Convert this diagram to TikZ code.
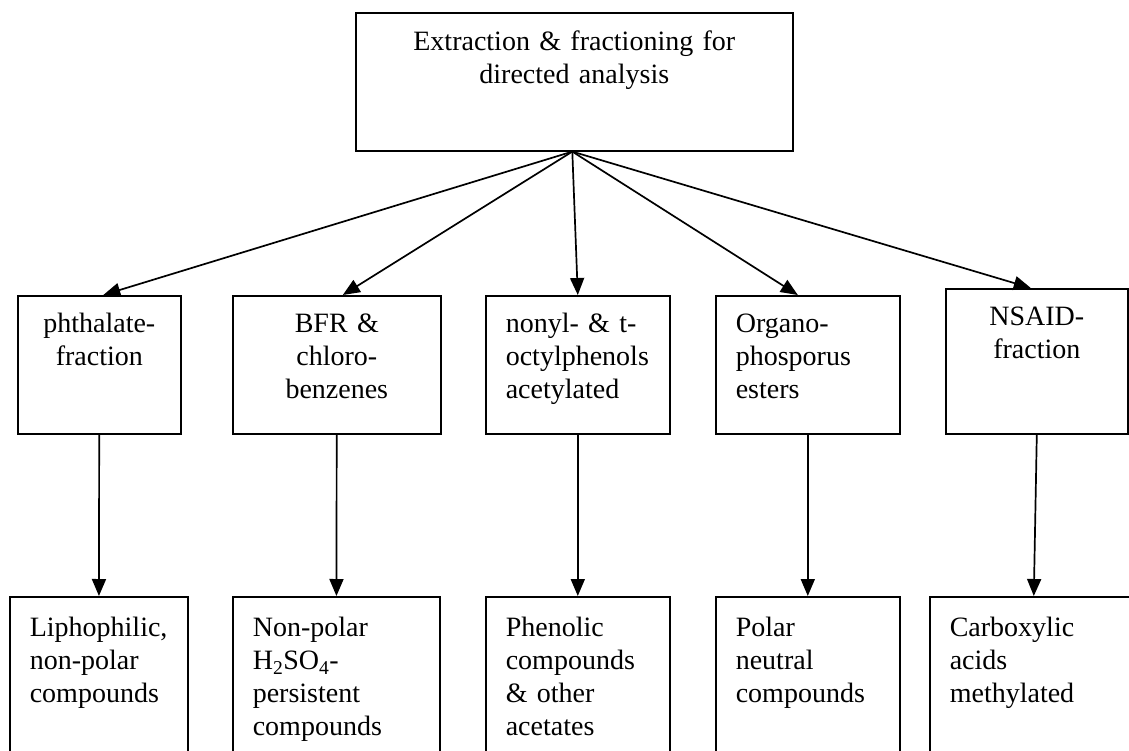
\documentclass[tikz,border=0pt]{standalone}
\usepackage{fontspec}
\setmainfont{Liberation Serif}
\usetikzlibrary{arrows.meta}
\hyphenpenalty=10000
\tikzset{>/.tip={Triangle[width=14pt,length=17pt]},
  fbox/.style={draw, line width=1.6pt, anchor=north west, inner xsep=20pt, inner ysep=0pt,
    font=\fontsize{28}{33}\selectfont, text height=37pt, text depth=101pt},
  lowbox/.style={fbox, text height=40pt, text depth=160pt, align=left},
  link/.style={->, line width=1.7pt}}

\begin{document}
\begin{tikzpicture}[x=1pt,y=-1pt]
\useasboundingbox (0,0) rectangle (1129,751);
\node[fbox, text width=397pt, align=center, text height=38pt, text depth=100pt] (top) at (355,12) {Extraction \& fractioning for\\directed analysis};

\node[fbox, text width=123pt, align=center] (phth) at (17,295) {phthalate-\\fraction};
\node[fbox, text width=168pt, align=center] (bfr) at (232,295) {BFR \&\\chloro-\\benzenes};
\node[fbox, text width=144pt, align=left] (nonyl) at (485,295) {nonyl- \& t-\\octylphenols\\acetylated};
\node[fbox, text width=144pt, align=left] (organo) at (715,295) {Organo-\\phosporus\\esters};
\node[fbox, text width=142pt, align=center, text depth=108pt] (nsaid) at (945,288) {NSAID-\\fraction};

\node[lowbox, text width=138pt] (lipo) at (9,596) {Liphophilic,\\non-polar\\compounds};
\node[lowbox, text width=167pt] (nonpol) at (232,596) {Non-polar\\H\textsubscript{2}SO\textsubscript{4}-\\persistent\\compounds};
\node[lowbox, text width=144pt] (phenol) at (485,596) {Phenolic\\compounds\\\& other\\acetates};
\node[lowbox, text width=144pt] (polar) at (715,596) {Polar\\neutral\\compounds};
\node[lowbox, text width=168pt] (carbox) at (929,596) {Carboxylic\\acids\\methylated};

\draw[link] ([xshift=-2pt]top.south) -- ([xshift=4pt]phth.north);
\draw[link] ([xshift=-2pt]top.south) -- ([xshift=6pt]bfr.north);
\draw[link] ([xshift=-2pt]top.south) -- (nonyl.north);
\draw[link] ([xshift=-2pt]top.south) -- ([xshift=-10pt]organo.north);
\draw[link] ([xshift=-2pt]top.south) -- ([xshift=-6pt]nsaid.north);

\draw[link] (phth) -- (lipo);
\draw[link] (bfr) -- (nonpol);
\draw[link] (nonyl) -- (phenol);
\draw[link] (organo) -- (polar);
\draw[link] (nsaid.south) -- (carbox.north);
\end{tikzpicture}
\end{document}
